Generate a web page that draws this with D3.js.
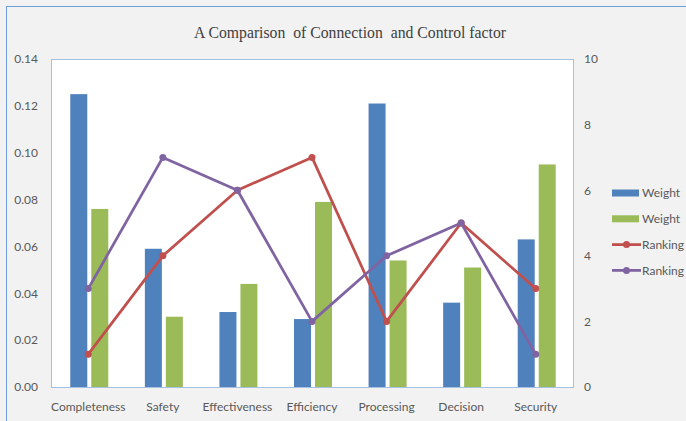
<!DOCTYPE html>
<meta charset="utf-8">
<style>
html, body {
  margin: 0;
  padding: 0;
  background: #f2f2f2;
}
svg text {
  font-family: Lato, "Liberation Sans", sans-serif;
  fill: #595959;
}
.title {
  font-family: "Liberation Serif", "DejaVu Serif", serif;
  white-space: pre;
}
</style>
<div id="chart"></div>
<script src="https://cdn.jsdelivr.net/npm/d3@7"></script>
<script>

// data
var categories = ["Completeness", "Safety", "Effectiveness", "Efficiency", "Processing", "Decision", "Security"];
var weightA = [0.125, 0.059, 0.032, 0.029, 0.121, 0.036, 0.063];
var weightB = [0.076, 0.030, 0.044, 0.079, 0.054, 0.051, 0.095];
var rankingA = [1, 4, 6, 7, 2, 5, 3];
var rankingB = [3, 7, 6, 2, 4, 5, 1];
var leftTicks = [0, 0.02, 0.04, 0.06, 0.08, 0.10, 0.12, 0.14];
var rightTicks = [0, 2, 4, 6, 8, 10];

var W = 686, H = 421;
var plot = {left: 51, top: 59, right: 573, bottom: 387};

var svg = d3.select("#chart").append("svg")
    .attr("width", W)
    .attr("height", H);

// outer chart frame
svg.append("rect")
    .attr("x", 6.5).attr("y", 6.5)
    .attr("width", W + 10).attr("height", H + 10)
    .attr("fill", "#f2f2f2")
    .attr("stroke", "#6f9fd8")
    .attr("stroke-width", 1);

svg.append("text")
    .attr("class", "title")
    .attr("x", 350).attr("y", 38)
    .attr("text-anchor", "middle")
    .attr("textLength", 312)
    .attr("lengthAdjust", "spacingAndGlyphs")
    .style("font-size", "16.5px")
    .style("fill", "#404040")
    .text("A Comparison  of Connection  and Control factor");

var x = d3.scaleBand()
    .domain(categories)
    .range([plot.left, plot.right]);

var yL = d3.scaleLinear().domain([0, 0.14]).range([plot.bottom, plot.top]);
var yR = d3.scaleLinear().domain([0, 10]).range([plot.bottom, plot.top]);

// plot area
svg.append("rect")
    .attr("x", plot.left + 0.5).attr("y", plot.top + 0.5)
    .attr("width", plot.right - plot.left).attr("height", plot.bottom - plot.top)
    .attr("fill", "#ffffff")
    .attr("stroke", "#a4c1e4");

// axes: labels only
var axisL = svg.append("g")
    .attr("transform", "translate(" + (plot.left - 13) + ",0)")
    .call(d3.axisLeft(yL).tickValues(leftTicks).tickFormat(d3.format(".2f")).tickSize(0));
var axisR = svg.append("g")
    .attr("transform", "translate(" + (plot.right + 11) + ",0)")
    .call(d3.axisRight(yR).tickValues(rightTicks).tickSize(0));
var axisX = svg.append("g")
    .attr("transform", "translate(0," + (plot.bottom + 12) + ")")
    .call(d3.axisBottom(x).tickSize(0));

[axisL, axisR, axisX].forEach(function(a) {
    a.select(".domain").remove();
    a.selectAll("text")
        .style("font-size", "12px")
        .style("font-family", "Lato, 'Liberation Sans', sans-serif")
        .style("fill", "#595959");
});
axisL.selectAll("text").attr("x", 0);
axisR.selectAll("text").attr("x", 0);

// bars
var barW = 17, gap = 4;
function bars(values, color, offset) {
    svg.append("g").selectAll("rect")
        .data(values)
        .enter().append("rect")
        .attr("x", function(d, i) { return x(categories[i]) + x.bandwidth() / 2 + offset; })
        .attr("y", function(d) { return yL(d); })
        .attr("width", barW)
        .attr("height", function(d) { return plot.bottom - yL(d); })
        .attr("fill", color);
}
bars(weightA, "#4f81bd", -barW - gap / 2 + 1);
bars(weightB, "#9bbb59", gap / 2 + 1);

// lines
function rankLine(values, color) {
    var cx = function(d, i) { return x(categories[i]) + x.bandwidth() / 2; };
    var line = d3.line()
        .x(cx)
        .y(function(d) { return yR(d); });
    var g = svg.append("g");
    g.append("path")
        .datum(values)
        .attr("d", line)
        .attr("fill", "none")
        .attr("stroke", color)
        .attr("stroke-width", 2.75)
        .attr("stroke-linejoin", "round");
    g.selectAll("circle")
        .data(values)
        .enter().append("circle")
        .attr("cx", cx)
        .attr("cy", function(d) { return yR(d); })
        .attr("r", 3.5)
        .attr("fill", color);
}
rankLine(rankingA, "#c0504d");
rankLine(rankingB, "#8064a2");

// legend
var legend = [
    {name: "Weight", color: "#4f81bd", type: "bar"},
    {name: "Weight", color: "#9bbb59", type: "bar"},
    {name: "Ranking", color: "#c0504d", type: "line"},
    {name: "Ranking", color: "#8064a2", type: "line"}
];
var lg = svg.append("g").selectAll("g")
    .data(legend)
    .enter().append("g")
    .attr("transform", function(d, i) { return "translate(612," + (193 + i * 25.8) + ")"; });
lg.filter(function(d) { return d.type == "bar"; })
    .append("rect")
    .attr("x", 0).attr("y", -3.5)
    .attr("width", 27).attr("height", 7)
    .attr("fill", function(d) { return d.color; });
lg.filter(function(d) { return d.type == "line"; })
    .append("line")
    .attr("x1", 0).attr("x2", 29)
    .attr("stroke", function(d) { return d.color; })
    .attr("stroke-width", 2.75);
lg.filter(function(d) { return d.type == "line"; })
    .append("circle")
    .attr("cx", 14.5).attr("r", 3.5)
    .attr("fill", function(d) { return d.color; });
lg.append("text")
    .attr("x", 30).attr("dy", "0.35em")
    .style("font-size", "12px")
    .text(function(d) { return d.name; });
</script>
